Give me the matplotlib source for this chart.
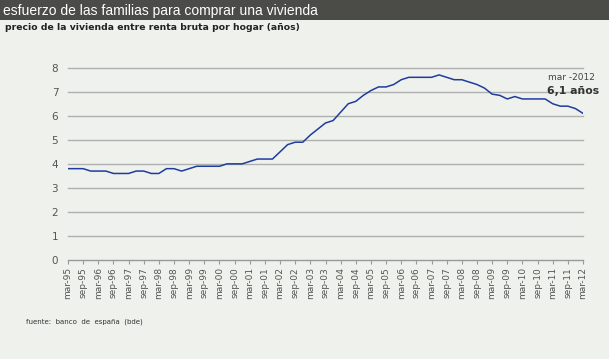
import numpy as np
import matplotlib
matplotlib.use("Agg")
import matplotlib.pyplot as plt
from matplotlib.patches import Rectangle

# datos trimestrales, mar-95 .. mar-12 (años de renta bruta por hogar)
esfuerzo = [3.8, 3.8, 3.8, 3.7, 3.7, 3.7, 3.6, 3.6, 3.6, 3.7,
            3.7, 3.6, 3.6, 3.8, 3.8, 3.7, 3.8, 3.9, 3.9, 3.9,
            3.9, 4.0, 4.0, 4.0, 4.1, 4.2, 4.2, 4.2, 4.5, 4.8,
            4.9, 4.9, 5.2, 5.45, 5.7, 5.8, 6.15, 6.5, 6.6, 6.85,
            7.05, 7.2, 7.2, 7.3, 7.5, 7.6, 7.6, 7.6, 7.6, 7.7,
            7.6, 7.5, 7.5, 7.4, 7.3, 7.15, 6.9, 6.85, 6.7, 6.8,
            6.7, 6.7, 6.7, 6.7, 6.5, 6.4, 6.4, 6.3, 6.1]

years = list(range(95, 100)) + list(range(0, 13))
tick_labels = []
for yy in years:
    tick_labels.append("mar-%02d" % yy)
    if yy != 12:
        tick_labels.append("sep-%02d" % yy)

y_ticks = [0, 1, 2, 3, 4, 5, 6, 7, 8]

bg = "#eff1ec"
W, H = 609, 359

fig = plt.figure(figsize=(W / 100, H / 100), dpi=100, facecolor=bg)

# barra de titulo
fig.patches.append(Rectangle((0, 1 - 20 / H), 1, 20 / H, transform=fig.transFigure,
                             facecolor="#4b4b47", edgecolor="none"))
fig.text(3 / W, 1 - 10.5 / H, "esfuerzo de las familias para comprar una vivienda",
         color="white", fontsize=10, family=["Liberation Sans Narrow", "Liberation Sans"],
         va="center", ha="left")
fig.text(5 / W, 1 - 28 / H, "precio de la vivienda entre renta bruta por hogar (años)",
         color="#222222", fontsize=6.7, fontweight="bold", va="center", ha="left")

ax = fig.add_axes([68 / W, 1 - 260 / H, (583 - 68) / W, (260 - 67.7) / H])
ax.set_facecolor(bg)

x = np.arange(len(esfuerzo))
ax.plot(x, esfuerzo, color="#1f3c9e", lw=1.1, zorder=3)

ax.set_xlim(0, len(esfuerzo) - 1)
ax.set_ylim(0, 8)
ax.set_yticks(y_ticks)
ax.set_yticklabels([str(v) for v in y_ticks])
ax.set_xticks(np.arange(0, len(esfuerzo), 2))
ax.set_xticklabels(tick_labels, rotation=90, fontsize=6.5, color="#555555")

ax.grid(axis="y", color="#b0b0b0", lw=1, zorder=0)
for line in ax.get_ygridlines():
    line.set_clip_on(False)
for s in ["top", "right", "left"]:
    ax.spines[s].set_visible(False)
ax.spines["bottom"].set_color("#999999")
ax.tick_params(axis="y", length=0, pad=7, labelsize=7.5, labelcolor="#555555")
ax.tick_params(axis="x", length=3, color="#999999", pad=2)

ax.text(548 / W, 1 - 78 / H, "mar -2012", transform=fig.transFigure,
        fontsize=6.5, color="#444444", va="center", ha="left")
ax.text(547 / W, 1 - 91 / H, "6,1 años", transform=fig.transFigure,
        fontsize=7.8, fontweight="bold", color="#333333", va="center", ha="left")

fig.text(26 / W, 1 - 322 / H, "fuente:  banco  de  españa  (bde)",
         fontsize=5, color="#333333", va="center", ha="left")

fig.savefig("out.png", dpi=100, facecolor=bg)
